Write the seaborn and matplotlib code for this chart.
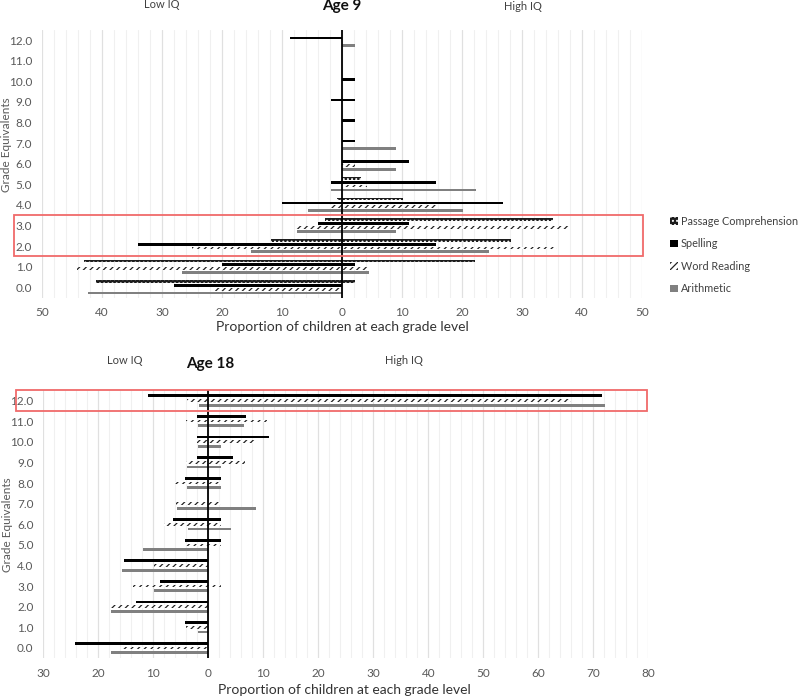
import numpy as np
import pandas as pd
import matplotlib.pyplot as plt
import seaborn as sns
from matplotlib.patches import Patch, Rectangle
from matplotlib.ticker import FuncFormatter, MultipleLocator

grades = ["0.0", "1.0", "2.0", "3.0", "4.0", "5.0", "6.0",
          "7.0", "8.0", "9.0", "10.0", "11.0", "12.0"]
series = ["Passage Comprehension", "Spelling", "Word Reading", "Arithmetic"]

# Age 9 -- low IQ children drawn to the left (negative), high IQ to the right
age9_passage_low = [-41, -43, -11.8, -2.9, -0.9, 0, 0, 0, 0, 0, 0, 0, 0]
age9_passage_high = [2.2, 22.1, 28.1, 35.2, 10.1, 3.2, 0, 0, 0, 0, 0, 0, 0]
age9_spelling_low = [-28, -20, -34, -4, -10, -1.9, 0, 0, 0, -1.8, 0, 0, -8.7]
age9_spelling_high = [0, 2.2, 15.6, 11.1, 26.8, 15.6, 11.1, 2.2, 2.2, 2.2, 2.2, 0, 0]
age9_word_low = [-21.2, -44.2, -25, -7.6, -2, 0, 0, 0, 0, 0, 0, 0, 0]
age9_word_high = [0, 4.5, 35.8, 38, 15.9, 4.2, 2.2, 0, 0, 0, 0, 0, 0]
age9_arith_low = [-42.3, -26.7, -15.2, -7.5, -5.7, -1.8, 0, 0, 0, 0, 0, 0, 0]
age9_arith_high = [0, 4.5, 24.5, 9, 20.1, 22.3, 9, 9, 0, 0, 0, 0, 2.2]

# Age 18
age18_spelling_low = [-24.2, -4.2, -13.1, -8.7, -15.3, -4.2, -6.4, 0, -4.2, -2.1, -2.1, -2.1, -10.9]
age18_spelling_high = [0, 0, 0, 0, 0, 2.3, 2.3, 0, 2.3, 4.4, 11, 6.8, 71.5]
age18_word_low = [-15.9, -4.1, -17.7, -13.7, -9.9, -4.1, -8, -5.9, -6, -4.1, -2.1, -4.1, -3.9]
age18_word_high = [0, 0, 0, 2.3, 0, 2.3, 2.3, 2.3, 2.3, 6.7, 8.7, 10.7, 65.9]
age18_arith_low = [-17.7, -1.8, -17.7, -9.8, -15.7, -11.8, -3.7, -5.7, -3.8, -3.8, -1.8, -1.8, -1.7]
age18_arith_high = [0, 0, 0, 0, 0, 0, 4.2, 8.6, 2.3, 2.3, 2.3, 6.5, 72.1]

styles = {
    "Passage Comprehension": dict(fc="#1c1c1c", ec="white", hatch="...."),
    "Spelling": dict(fc="black", ec="black", hatch=None),
    "Word Reading": dict(fc="white", ec="#222222", hatch="/////"),
    "Arithmetic": dict(fc="#808080", ec="#808080", hatch=None),
}


def make_df(values):
    rows = []
    for name, vals in values.items():
        for g, v in zip(grades, vals):
            rows.append({"grade": g, "series": name, "value": v})
    return pd.DataFrame(rows)


def fx(px):
    return px / 800


def fy(py):
    return 1 - py / 697


sns.set_theme(style="white")
plt.rcParams["font.family"] = ["Lato", "DejaVu Sans"]
plt.rcParams["hatch.linewidth"] = 0.9

fig = plt.figure(figsize=(8, 6.97), dpi=100)
ax1 = fig.add_axes([fx(42), fy(297.6), fx(600), (297.6 - 29.7) / 697])
ax2 = fig.add_axes([fx(43.3), fy(658.3), fx(605), (658.3 - 390.2) / 697])

panels = [
    (ax1, series,
     {"Passage Comprehension": age9_passage_low, "Spelling": age9_spelling_low,
      "Word Reading": age9_word_low, "Arithmetic": age9_arith_low},
     {"Passage Comprehension": age9_passage_high, "Spelling": age9_spelling_high,
      "Word Reading": age9_word_high, "Arithmetic": age9_arith_high},
     (-50, 50), 0.74, 0.3),
    (ax2, series[1:],
     {"Spelling": age18_spelling_low, "Word Reading": age18_word_low,
      "Arithmetic": age18_arith_low},
     {"Spelling": age18_spelling_high, "Word Reading": age18_word_high,
      "Arithmetic": age18_arith_high},
     (-30, 80), 0.68, 0.42),
]

order = grades[::-1]
for ax, names, low, high, xlim, width, gap in panels:
    for vals in (low, high):
        sns.barplot(data=make_df(vals), x="value", y="grade", hue="series",
                    order=order, hue_order=names, orient="h", dodge=True,
                    width=width, gap=gap, errorbar=None, legend=False, ax=ax)
    for i, cont in enumerate(ax.containers):
        st = styles[names[i % len(names)]]
        for bar in cont:
            bar.set_facecolor(st["fc"])
            bar.set_edgecolor(st["ec"])
            bar.set_hatch(st["hatch"])
            bar.set_linewidth(0)
    ax.set_xlim(*xlim)
    ax.xaxis.set_major_locator(MultipleLocator(10))
    ax.xaxis.set_minor_locator(MultipleLocator(2))
    ax.xaxis.set_major_formatter(FuncFormatter(lambda v, p: f"{abs(v):.0f}"))
    ax.grid(axis="x", which="minor", color="#f0f0f0", lw=0.8)
    ax.grid(axis="x", which="major", color="#e0e0e0", lw=0.9)
    ax.set_axisbelow(True)
    ax.axvline(0, color="black", lw=1.3, zorder=6)
    for s in ax.spines.values():
        s.set_visible(False)
    ax.tick_params(axis="both", which="both", length=0, labelsize=8.5,
                   labelcolor="#595959")
    ax.tick_params(axis="x", pad=7)
    ax.tick_params(axis="y", pad=7)
    ax.set_xlabel("")
    ax.set_ylabel("")

# axis titles and labels
fig.text(fx(342), fy(327), "Proportion of children at each grade level",
         ha="center", va="center", fontsize=10, color="#333333")
fig.text(fx(344), fy(690), "Proportion of children at each grade level",
         ha="center", va="center", fontsize=10, color="#333333")
fig.text(fx(7), fy(145), "Grade Equivalents", rotation=90,
         ha="center", va="center", fontsize=8.5, color="#595959")
fig.text(fx(8), fy(525), "Grade Equivalents", rotation=90,
         ha="center", va="center", fontsize=8.5, color="#595959")

fig.text(fx(342), fy(6), "Age 9", ha="center", va="center",
         fontsize=11, fontweight="bold", color="#111111")
fig.text(fx(162), fy(5), "Low IQ", ha="center", va="center",
         fontsize=8, color="#404040")
fig.text(fx(523), fy(6), "High IQ", ha="center", va="center",
         fontsize=8, color="#404040")
fig.text(fx(210), fy(364), "Age 18", ha="center", va="center",
         fontsize=11, fontweight="bold", color="#111111")
fig.text(fx(125), fy(361), "Low IQ", ha="center", va="center",
         fontsize=8, color="#404040")
fig.text(fx(404), fy(361), "High IQ", ha="center", va="center",
         fontsize=8, color="#404040")

# highlighted rows
for (x0, y0, x1, y1) in [(14, 215, 643, 256.5), (16, 389.5, 646.5, 410.5)]:
    fig.add_artist(Rectangle((fx(x0), fy(y1)), fx(x1 - x0), (y1 - y0) / 697,
                             transform=fig.transFigure, fill=False,
                             edgecolor="#f06a6a", lw=1.3))

handles = [Patch(facecolor=styles[n]["fc"], edgecolor=styles[n]["ec"],
                 hatch=styles[n]["hatch"], linewidth=0, label=n) for n in series]
fig.legend(handles=handles, loc="upper left", bbox_to_anchor=(fx(670), fy(216)),
           frameon=False, fontsize=7.8, handlelength=0.7, handleheight=0.7,
           handletextpad=0.3, labelspacing=1.05, labelcolor="#404040",
           borderaxespad=0, borderpad=0)

fig.savefig("out.png", dpi=100)
